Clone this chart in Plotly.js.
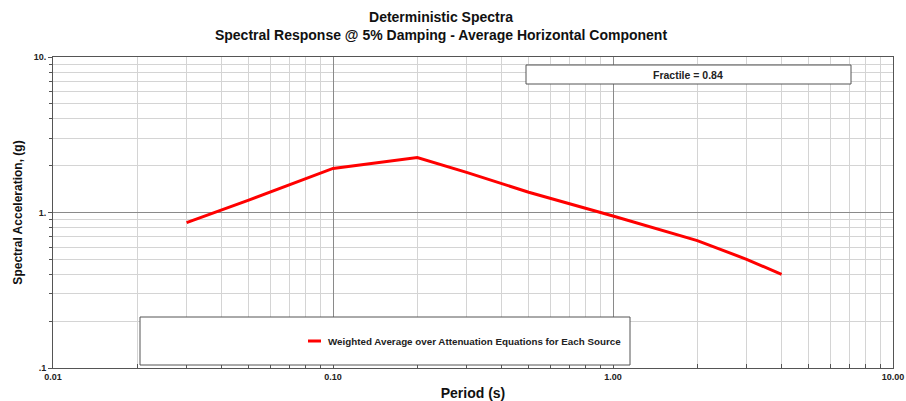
<!DOCTYPE html>
<html>
<head>
<meta charset="utf-8">
<script src="https://cdn.plot.ly/plotly-3.0.1.min.js"></script>
<style>
  html, body { margin: 0; padding: 0; background: #fff; }
  #chart { width: 906px; height: 401px; }
</style>
</head>
<body>
<div id="chart"></div>
<script>
// Spectral response, weighted average over attenuation equations
const periods = [0.03, 0.05, 0.1, 0.2, 0.3, 0.5, 1.0, 2.0, 3.0, 4.0];
const accel   = [0.86, 1.20, 1.92, 2.26, 1.81, 1.35, 0.95, 0.66, 0.50, 0.40];

const xTickVals = [0.01, 0.1, 1, 10];
const xTickText = ['0.01', '0.10', '1.00', '10.00'];
const yTickVals = [0.1, 1, 10];
const yTickText = ['.1', '1.', '10.'];

const titleLines = ['Deterministic Spectra',
                    'Spectral Response @ 5% Damping - Average Horizontal Component'];
const seriesName = 'Weighted Average over Attenuation Equations for Each Source';
const fractileLabel = 'Fractile = 0.84';

// minor grid positions (2..9 within each decade)
function minorVals(decades) {
  const out = [];
  decades.forEach(d => { for (let k = 2; k <= 9; k++) out.push(+(d * k).toPrecision(3)); });
  return out;
}

const font = 'Liberation Sans, Arial, sans-serif';

// plot area in pixels, used to place the boxes and key
const W = 906, H = 401;
const M = { l: 53, r: 13, t: 57, b: 33 };
const px = x => (x - M.l) / (W - M.l - M.r);
const py = y => (H - M.b - y) / (H - M.t - M.b);

const trace = {
  x: periods,
  y: accel,
  type: 'scatter',
  mode: 'lines',
  name: seriesName,
  showlegend: false,
  line: { color: '#ff0000', width: 3 },
  hoverinfo: 'skip'
};

const axisCommon = {
  type: 'log',
  showline: true,
  mirror: true,
  linecolor: '#555',
  linewidth: 1,
  tickmode: 'array',
  showgrid: true,
  gridcolor: '#8a8a8a',
  gridwidth: 1,
  ticks: 'outside',
  ticklen: 4,
  tickcolor: '#555',
  tickfont: { family: font, size: 9, color: '#222', weight: 'bold' },
  zeroline: false
};

const layout = {
  width: W,
  height: H,
  margin: M,
  paper_bgcolor: '#fff',
  plot_bgcolor: '#fff',
  showlegend: false,
  title: {
    text: '<b>' + titleLines[0] + '</b><br><b>' + titleLines[1] + '</b>',
    font: { family: font, size: 14, color: '#111' },
    x: 441 / W, xref: 'container', xanchor: 'center',
    y: 1 - 22 / H, yref: 'container', yanchor: 'middle'
  },
  xaxis: Object.assign({}, axisCommon, {
    range: [-2, 1],
    tickvals: xTickVals,
    ticktext: xTickText,
    ticks: 'inside',
    minor: {
      tickmode: 'array',
      tickvals: minorVals([0.01, 0.1, 1]),
      showgrid: true,
      gridcolor: '#d4d4d4',
      gridwidth: 1,
      ticks: 'inside',
      ticklen: 4,
      tickcolor: '#555'
    },
    title: {
      text: '<b>Period (s)</b>',
      font: { family: font, size: 14, color: '#111' },
      standoff: 8
    }
  }),
  yaxis: Object.assign({}, axisCommon, {
    range: [-1, 1],
    tickvals: yTickVals,
    ticktext: yTickText,
    minor: {
      tickmode: 'array',
      tickvals: minorVals([0.1, 1]),
      showgrid: true,
      gridcolor: '#d4d4d4',
      gridwidth: 1,
      ticks: 'outside',
      ticklen: 3,
      tickcolor: '#555'
    },
    title: {
      text: '<b>Spectral Acceleration, (g)</b>',
      font: { family: font, size: 12, color: '#111' },
      standoff: 8
    }
  }),
  shapes: [
    // key frame
    { type: 'rect', xref: 'paper', yref: 'paper',
      x0: px(140), x1: px(630), y0: py(365), y1: py(317),
      line: { color: '#555', width: 1 }, fillcolor: '#fff', layer: 'above' },
    // key swatch
    { type: 'line', xref: 'paper', yref: 'paper',
      x0: px(308), x1: px(321), y0: py(341), y1: py(341),
      line: { color: '#ff0000', width: 3 }, layer: 'above' },
    // fractile frame
    { type: 'rect', xref: 'paper', yref: 'paper',
      x0: px(526), x1: px(851), y0: py(84), y1: py(65),
      line: { color: '#555', width: 1 }, fillcolor: '#fff', layer: 'above' }
  ],
  annotations: [
    { xref: 'paper', yref: 'paper', x: px(326), y: py(341),
      text: '<b>' + seriesName + '</b>', showarrow: false,
      font: { family: font, size: 9.8, color: '#222' },
      xanchor: 'left', yanchor: 'middle' },
    { xref: 'paper', yref: 'paper', x: px(688), y: py(74.5),
      text: '<b>' + fractileLabel + '</b>', showarrow: false,
      font: { family: font, size: 10.5, color: '#222' },
      xanchor: 'center', yanchor: 'middle' }
  ]
};

Plotly.newPlot('chart', [trace], layout, { displayModeBar: false, staticPlot: true });
</script>
</body>
</html>
